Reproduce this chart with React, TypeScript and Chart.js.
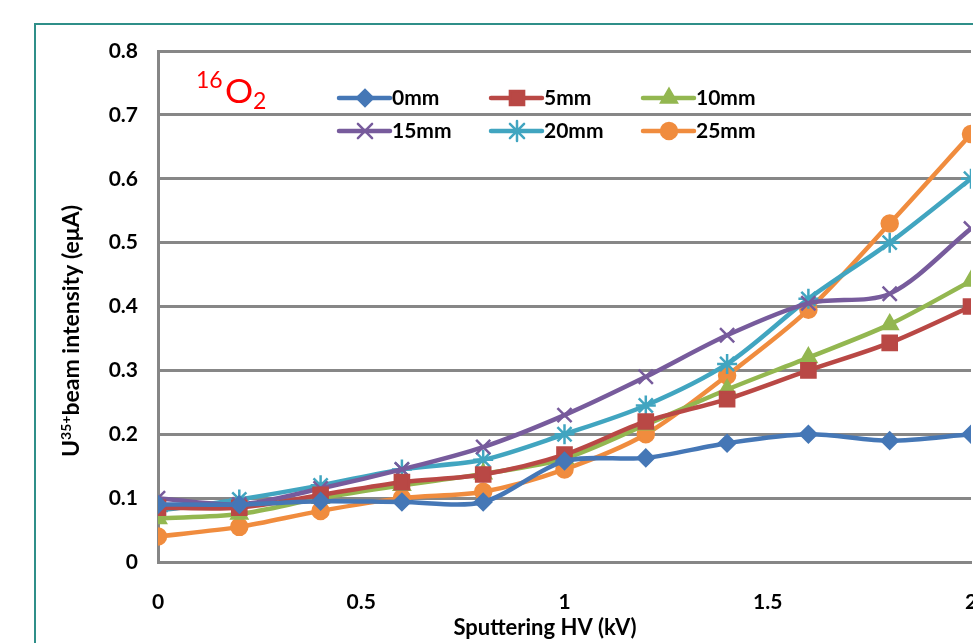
import React, { useEffect, useRef } from "react";
import { Chart, registerables } from "chart.js";
import { drawPoint } from "chart.js/helpers";

Chart.register(...registerables);

const xValues = [0, 0.2, 0.4, 0.6, 0.8, 1.0, 1.2, 1.4, 1.6, 1.8, 2.0];
const s0mm = [0.09, 0.09, 0.095, 0.094, 0.094, 0.158, 0.163, 0.186, 0.2, 0.19, 0.2];
const s5mm = [0.085, 0.085, 0.105, 0.125, 0.137, 0.168, 0.22, 0.255, 0.30, 0.343, 0.40];
const s10mm = [0.068, 0.075, 0.1, 0.12, 0.138, 0.162, 0.215, 0.27, 0.32, 0.372, 0.44];
const s15mm = [0.1, 0.09, 0.115, 0.145, 0.18, 0.23, 0.29, 0.355, 0.405, 0.42, 0.522];
const s20mm = [0.08, 0.098, 0.12, 0.145, 0.16, 0.2, 0.245, 0.31, 0.412, 0.5, 0.6];
const s25mm = [0.04, 0.055, 0.08, 0.1, 0.11, 0.145, 0.2, 0.292, 0.395, 0.53, 0.67];

const seriesNames = ["0mm", "5mm", "10mm", "15mm", "20mm", "25mm"];
const seriesData = [s0mm, s5mm, s10mm, s15mm, s20mm, s25mm];
const seriesColors = ["#4577B6", "#B94845", "#93B750", "#775B9C", "#41A5C0", "#F08C3E"];
const seriesMarkers = ["rectRot", "rect", "triangle", "crossRot", "star", "circle"];
const seriesRadius = [8, 10, 9, 10, 10, 8];

const xTitle = "Sputtering HV (kV)";
const yTitleMain = "U";
const yTitleSup = "35+";
const yTitleRest = "beam intensity (eμA)";

const FONT = "Lato, 'Open Sans', sans-serif";

const overlayPlugin = {
  id: "overlay",
  afterDraw(chart: any) {
    const ctx = chart.ctx;
    ctx.save();
    // Title 16O2
    ctx.fillStyle = "#FF0000";
    ctx.textBaseline = "alphabetic";
    ctx.textAlign = "left";
    ctx.font = `400 23px ${FONT}`;
    ctx.fillText("16", 196, 88);
    ctx.font = `400 32px ${FONT}`;
    ctx.save();
    ctx.translate(225, 103);
    ctx.scale(1.1, 1);
    ctx.fillText("O", 0, 0);
    ctx.restore();
    ctx.font = `400 23px ${FONT}`;
    ctx.fillText("2", 253, 109);

    // x title
    ctx.fillStyle = "#000";
    ctx.font = `700 22px ${FONT}`;
    ctx.textAlign = "center";
    ctx.textBaseline = "middle";
    ctx.fillText(xTitle, 545, 628);

    // y title
    ctx.save();
    ctx.translate(72, 331);
    ctx.rotate(-Math.PI / 2);
    ctx.textAlign = "left";
    ctx.textBaseline = "middle";
    ctx.font = `700 23px ${FONT}`;
    const wU = ctx.measureText(yTitleMain).width;
    const wR = ctx.measureText(yTitleRest).width;
    ctx.font = `700 14px ${FONT}`;
    const wS = ctx.measureText(yTitleSup).width;
    const total = wU + wS + wR;
    let x0 = -total / 2;
    ctx.font = `700 23px ${FONT}`;
    ctx.fillText(yTitleMain, x0, 0);
    x0 += wU;
    ctx.font = `700 14px ${FONT}`;
    ctx.fillText(yTitleSup, x0, -6);
    x0 += wS;
    ctx.font = `700 23px ${FONT}`;
    ctx.fillText(yTitleRest, x0, 0);
    ctx.restore();

    // legend
    const cols = [339, 491, 643];
    const rows = [98, 131];
    for (let i = 0; i < seriesNames.length; i++) {
      const cx = cols[i % 3];
      const cy = rows[Math.floor(i / 3)];
      const color = seriesColors[i];
      ctx.strokeStyle = color;
      ctx.lineWidth = 4.5;
      ctx.lineCap = "round";
      ctx.beginPath();
      ctx.moveTo(cx, cy);
      ctx.lineTo(cx + 51, cy);
      ctx.stroke();
      ctx.fillStyle = color;
      ctx.lineWidth = 2.5;
      drawPoint(ctx, { pointStyle: seriesMarkers[i], radius: seriesRadius[i], borderWidth: 2.5, rotation: 0 }, cx + 26, cy);
      ctx.fillStyle = "#000";
      ctx.font = `700 21px ${FONT}`;
      ctx.textAlign = "left";
      ctx.textBaseline = "middle";
      ctx.fillText(seriesNames[i], cx + 53, cy);
    }
    ctx.restore();
  },
};

export default function App() {
  const ref = useRef<HTMLCanvasElement>(null);
  useEffect(() => {
    const canvas = ref.current!;
    const chart = new Chart(canvas, {
      type: "line",
      data: {
        datasets: seriesNames.map((name, i) => ({
          label: name,
          data: xValues.map((x, j) => ({ x, y: seriesData[i][j] })),
          borderColor: seriesColors[i],
          backgroundColor: seriesColors[i],
          pointBorderColor: seriesColors[i],
          pointBackgroundColor: seriesColors[i],
          pointStyle: seriesMarkers[i] as any,
          pointRadius: seriesRadius[i],
          pointBorderWidth: 2.5,
          borderWidth: 4.5,
          tension: 0.3,
          fill: false,
        })),
      },
      options: {
        animation: false,
        responsive: false,
        devicePixelRatio: 1,
        layout: { padding: { left: 0, top: 51, right: 69, bottom: 0 } },
        plugins: {
          legend: { display: false },
          tooltip: { enabled: false },
          title: { display: false },
        },
        scales: {
          x: {
            type: "linear",
            min: 0,
            max: 2,
            ticks: {
              stepSize: 0.5,
              color: "#000",
              font: { family: FONT, size: 21, weight: "bold" },
              padding: 28,
              maxRotation: 0,
              callback: (v: any) => String(Number(v)),
            },
            grid: { display: false, drawTicks: false },
            border: { display: true, color: "#868686", width: 3 },
            afterFit(scale: any) {
              scale.height = 81;
            },
          },
          y: {
            min: 0,
            max: 0.8,
            ticks: {
              stepSize: 0.1,
              color: "#000",
              font: { family: FONT, size: 21, weight: "bold" },
              padding: 20,
            },
            grid: { color: "#878787", lineWidth: 3, drawTicks: false },
            border: { display: true, color: "#868686", width: 3 },
            afterFit(scale: any) {
              scale.width = 158;
            },
          },
        },
      },
      plugins: [overlayPlugin],
    });
    return () => chart.destroy();
  }, []);

  return (
    <div
      style={{
        position: "fixed",
        left: 0,
        top: 0,
        width: 973,
        height: 643,
        overflow: "hidden",
        background: "#fff",
      }}
    >
      <div
        style={{
          position: "absolute",
          left: 34,
          top: 23,
          width: 1100,
          height: 1000,
          border: "2px solid #2F8F89",
        }}
      />
      <canvas
        ref={ref}
        width={1040}
        height={643}
        style={{ position: "absolute", left: 0, top: 0, width: 1040, height: 643 }}
      />
    </div>
  );
}
